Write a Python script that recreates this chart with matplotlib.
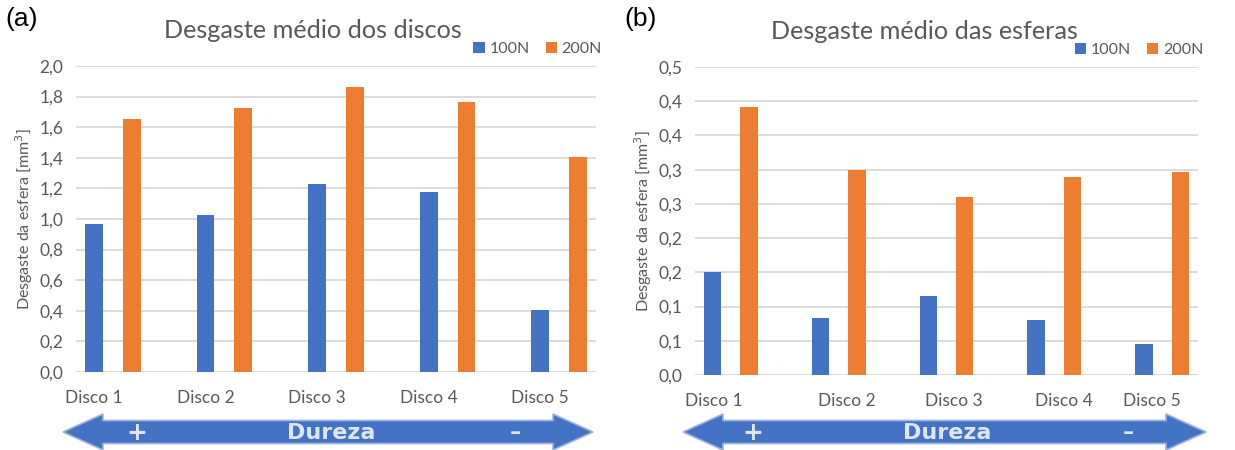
import matplotlib.pyplot as plt
import numpy as np
from matplotlib.patches import Polygon
from matplotlib.ticker import FuncFormatter
from decimal import Decimal, ROUND_HALF_UP

plt.rcParams['font.family'] = ['Lato', 'DejaVu Sans']

discos = ['Disco 1', 'Disco 2', 'Disco 3', 'Disco 4', 'Disco 5']
series = ['100N', '200N']

# desgaste dos discos [mm3]
discos_100N = [0.97, 1.024, 1.23, 1.178, 0.404]
discos_200N = [1.653, 1.724, 1.861, 1.766, 1.408]

# desgaste das esferas [mm3]
esferas_100N = [0.151, 0.083, 0.115, 0.081, 0.045]
esferas_200N = [0.391, 0.300, 0.260, 0.290, 0.297]

# posição dos rótulos de cada disco (relativa ao centro da categoria)
rot_a = [-0.17, -0.17, -0.17, -0.17, -0.17]
rot_b = [-0.16, 0.08, 0.07, 0.09, -0.10]

AZUL = '#4472c4'
LARANJA = '#ed7d31'
CINZA = '#595959'
GRADE = '#d9d9d9'

W, H = 1235, 450
fig = plt.figure(figsize=(W / 100, H / 100), dpi=100)


def rect(x0, x1, ytop, ybot):
    return [x0 / W, 1 - ybot / H, (x1 - x0) / W, (ybot - ytop) / H]


def virgula(v, pos):
    d = Decimal(str(round(v, 6))).quantize(Decimal('0.1'), rounding=ROUND_HALF_UP)
    return str(d).replace('.', ',')


def painel(ax, v100, v200, ymax, passo, titulo, rot):
    x = np.arange(len(discos))
    larg = 0.16
    ax.bar(x - 0.17, v100, larg, color=AZUL, label=series[0], zorder=3)
    ax.bar(x + 0.17, v200, larg, color=LARANJA, label=series[1], zorder=3)
    ax.set_xlim(-0.33, 4.33)
    ax.set_ylim(0, ymax)
    ax.set_yticks(np.arange(0, ymax + passo / 2, passo))
    ax.yaxis.set_major_formatter(FuncFormatter(virgula))
    ax.grid(axis='y', color=GRADE, lw=1.3, zorder=0)
    for s in ax.spines.values():
        s.set_visible(False)
    ax.tick_params(length=0, labelsize=12.5, labelcolor=CINZA, pad=9)
    ax.set_xticks(x + np.array(rot))
    ax.set_xticklabels(discos)
    ax.tick_params(axis='x', pad=13)
    ax.set_ylabel('Desgaste da esfera [mm$^3$]', fontsize=11.5, color=CINZA, labelpad=3)
    ax.set_title(titulo, fontsize=18.2, color=CINZA, x=0.456, pad=20)
    ax.legend(loc='lower right', bbox_to_anchor=(1.03, 1.0), ncol=2, frameon=False,
              fontsize=11.5, labelcolor=CINZA, handlelength=0.7, handleheight=0.7,
              handletextpad=0.3, columnspacing=1.0, borderpad=0.1)


def seta(x0, x1, yc, xs):
    h, hh, sh = 40, 18, 11.5
    pts = [(x0, yc), (x0 + h, yc - hh), (x0 + h, yc - sh), (x1 - h, yc - sh),
           (x1 - h, yc - hh), (x1, yc), (x1 - h, yc + hh), (x1 - h, yc + sh),
           (x0 + h, yc + sh), (x0 + h, yc + hh)]
    pts = [(px / W, 1 - py / H) for px, py in pts]
    fig.patches.append(Polygon(pts, closed=True, transform=fig.transFigure,
                               facecolor=AZUL, edgecolor='#9db3df', lw=1.2))
    for xt, t, fs in zip(xs, ['+', 'Dureza', '\u2013'], [18, 16, 16]):
        fig.text(xt / W, 1 - (yc + 1) / H, t, ha='center', va='center',
                 fontsize=fs, fontweight='bold', color='#dce6f4',
                 family=['DejaVu Sans'])


ax1 = fig.add_axes(rect(76, 596, 66, 372))
painel(ax1, discos_100N, discos_200N, 2.0, 0.2, 'Desgaste médio dos discos', rot_a)

ax2 = fig.add_axes(rect(695, 1198, 67, 375))
painel(ax2, esferas_100N, esferas_200N, 0.45, 0.05, 'Desgaste médio das esferas', rot_b)

fig.text(5 / W, 1 - 19 / H, '(a)', fontsize=19, va='center', family=['Liberation Sans'])
fig.text(624 / W, 1 - 19 / H, '(b)', fontsize=19, va='center', family=['Liberation Sans'])

seta(63, 593, 432, [137, 331, 515])
seta(683, 1206, 432, [753, 947, 1128])

fig.savefig('out.png', dpi=100)
